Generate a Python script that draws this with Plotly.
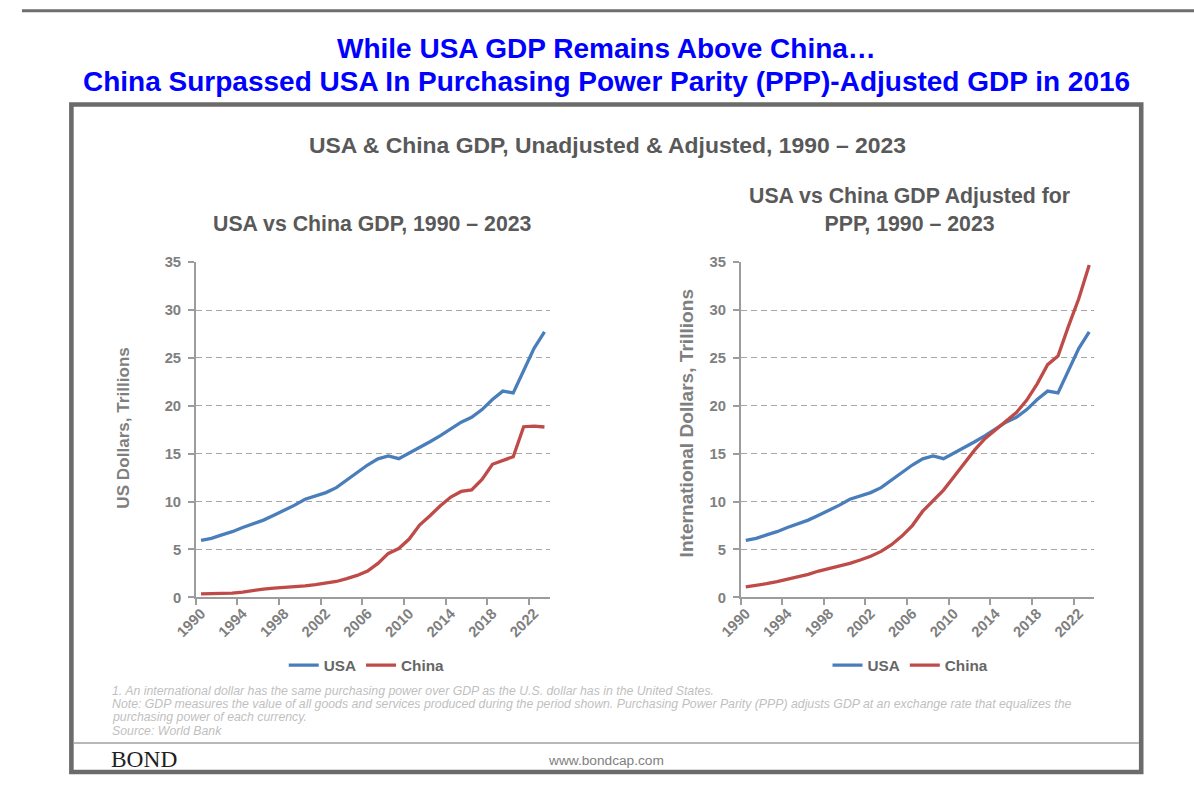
import plotly.graph_objects as go

# ---------------- data (trillions) ----------------
years = list(range(1990, 2024))

usa_gdp = [5.96, 6.16, 6.52, 6.86, 7.29, 7.64, 8.07, 8.58, 9.06, 9.63,
           10.25, 10.58, 10.94, 11.46, 12.22, 13.04, 13.82, 14.47, 14.77, 14.48,
           15.05, 15.60, 16.25, 16.88, 17.61, 18.30, 18.80, 19.61, 20.66, 21.54,
           21.35, 23.68, 26.01, 27.72]

china_gdp = [0.36, 0.38, 0.43, 0.44, 0.56, 0.73, 0.86, 0.96, 1.03, 1.09,
             1.21, 1.34, 1.47, 1.66, 1.96, 2.29, 2.75, 3.55, 4.59, 5.10,
             6.09, 7.55, 8.53, 9.57, 10.48, 11.06, 11.23, 12.31, 13.90, 14.28,
             14.69, 17.82, 17.88, 17.79]

usa_ppp = [5.96, 6.16, 6.52, 6.86, 7.29, 7.64, 8.07, 8.58, 9.06, 9.63,
           10.25, 10.58, 10.94, 11.46, 12.22, 13.04, 13.82, 14.47, 14.77, 14.48,
           15.05, 15.60, 16.25, 16.88, 17.61, 18.30, 18.80, 19.61, 20.66, 21.54,
           21.35, 23.68, 26.01, 27.72]

china_ppp = [1.10, 1.25, 1.43, 1.65, 1.90, 2.15, 2.40, 2.75, 3.00, 3.25,
             3.55, 3.90, 4.30, 4.80, 5.50, 6.40, 7.50, 9.00, 10.10, 11.20,
             12.60, 14.00, 15.40, 16.60, 17.50, 18.40, 19.30, 20.60, 22.30, 24.30,
             25.20, 28.30, 31.20, 34.70]

xtick_years = [1990, 1994, 1998, 2002, 2006, 2010, 2014, 2018, 2022]
ytick_vals = [0, 5, 10, 15, 20, 25, 30, 35]

main_title_1 = "While USA GDP Remains Above China…"
main_title_2 = "China Surpassed USA In Purchasing Power Parity (PPP)-Adjusted GDP in 2016"
chart_heading = "USA & China GDP, Unadjusted & Adjusted, 1990 – 2023"
left_title = "USA vs China GDP, 1990 – 2023"
right_title = "USA vs China GDP Adjusted for<br>PPP, 1990 – 2023"
left_ytitle = "US Dollars, Trillions"
right_ytitle = "International Dollars, Trillions"
footnotes = [
    "1. An international dollar has the same purchasing power over GDP as the U.S. dollar has in the United States.",
    "Note: GDP measures the value of all goods and services produced during the period shown. Purchasing Power Parity (PPP) adjusts GDP at an exchange rate that equalizes the",
    "purchasing power of each currency.",
    "Source: World Bank",
]

# ---------------- styling ----------------
W, H = 1194, 786
# positions below are given in photographed-picture pixels and mapped to page pixels
OX, OY, S = 21.1, 7.2, 0.982
FONT = "Liberation Sans, Arial, sans-serif"
BLUE = "#4A7EBB"
RED = "#BE4B48"
GRAY_TXT = "#595959"
TICK_TXT = "#7F7F7F"
AXIS_COL = "#9C9C9C"
GRID_COL = "#A6A6A6"


def px(x):
    return ((x - OX) / S) / W


def py(y):
    return 1 - ((y - OY) / S) / H


fig = go.Figure()

LW = 3.3
fig.add_trace(go.Scatter(x=years, y=usa_gdp, name="USA", mode="lines",
                         line=dict(color=BLUE, width=LW), xaxis="x", yaxis="y",
                         legend="legend"))
fig.add_trace(go.Scatter(x=years, y=china_gdp, name="China", mode="lines",
                         line=dict(color=RED, width=LW), xaxis="x", yaxis="y",
                         legend="legend"))
fig.add_trace(go.Scatter(x=years, y=usa_ppp, name="USA", mode="lines",
                         line=dict(color=BLUE, width=LW), xaxis="x2", yaxis="y2",
                         legend="legend2"))
fig.add_trace(go.Scatter(x=years, y=china_ppp, name="China", mode="lines",
                         line=dict(color=RED, width=LW), xaxis="x2", yaxis="y2",
                         legend="legend2"))

xaxis_common = dict(
    range=[min(years) - 0.5, max(years) + 0.5],
    tickmode="array", tickvals=xtick_years, ticktext=[str(v) for v in xtick_years],
    ticks="", tickangle=-45,
    tickfont=dict(family=FONT, size=14.8, color=TICK_TXT, weight="bold"),
    showgrid=False, zeroline=False,
    showline=True, linecolor=AXIS_COL, linewidth=1.5,
    minor=dict(tick0=min(years) - 0.5, dtick=4, ticks="outside", ticklen=6,
               tickcolor=AXIS_COL, tickwidth=1.5, showgrid=False),
    fixedrange=True,
)
yaxis_common = dict(
    range=[0, 35], tickmode="array", tickvals=ytick_vals,
    ticks="outside", ticklen=6, tickcolor=AXIS_COL, tickwidth=1.5,
    tickfont=dict(family=FONT, size=14.8, color=TICK_TXT, weight="bold"),
    showgrid=True, gridcolor=GRID_COL, gridwidth=1, griddash="6px,4px",
    zeroline=False, showline=True, linecolor=AXIS_COL, linewidth=1.5,
    ticklabelstandoff=4, fixedrange=True,
)

legend_font = dict(family=FONT, size=15.3, color="#666666", weight="bold")

fig.update_layout(
    width=W, height=H,
    margin=dict(l=0, r=0, t=0, b=0, pad=0),
    paper_bgcolor="white", plot_bgcolor="white",
    font=dict(family=FONT, color=GRAY_TXT),
    xaxis=dict(domain=[px(195), px(549)], anchor="y", **xaxis_common),
    yaxis=dict(domain=[py(598), py(262)], anchor="x", **yaxis_common),
    xaxis2=dict(domain=[px(740), px(1094)], anchor="y2", **xaxis_common),
    yaxis2=dict(domain=[py(598), py(262)], anchor="x2", **yaxis_common),
    legend=dict(orientation="h", x=px(366), xanchor="center", y=py(666), yanchor="middle",
                font=legend_font, itemwidth=30, bgcolor="rgba(0,0,0,0)", traceorder="normal"),
    legend2=dict(orientation="h", x=px(910), xanchor="center", y=py(666), yanchor="middle",
                 font=legend_font, itemwidth=30, bgcolor="rgba(0,0,0,0)", traceorder="normal"),
    showlegend=True,
)

shapes = [
    # outer page frame (top edge)
    dict(type="line", xref="paper", yref="paper", x0=0, x1=1, y0=py(10), y1=py(10),
         line=dict(color="#6E6E6E", width=3)),
    # inner chart box
    dict(type="rect", xref="paper", yref="paper", x0=px(70.5), x1=px(1140.8), y0=py(773), y1=py(104),
         line=dict(color="#6B6B6B", width=4.6)),
    # divider line above footer
    dict(type="line", xref="paper", yref="paper", x0=px(72.5), x1=px(1138.5), y0=py(744), y1=py(744),
         line=dict(color="#A0A0A0", width=1.5)),
]
fig.update_layout(shapes=shapes)

ann = []


def add_text(text, x, y, size, color, xanchor="center", weight="normal", style="normal",
             family=FONT, angle=0):
    ann.append(dict(text=text, x=px(x), y=py(y), xref="paper", yref="paper",
                    showarrow=False, xanchor=xanchor, yanchor="middle", textangle=angle,
                    font=dict(family=family, size=size, color=color, weight=weight, style=style)))


add_text(main_title_1, 606, 48, 28, "#0000FF", weight="bold")
add_text(main_title_2, 606, 81, 28, "#0000FF", weight="bold")
add_text(chart_heading, 607, 145, 22.9, GRAY_TXT, weight="bold")
add_text(left_title, 372, 224, 21.3, GRAY_TXT, weight="bold")
add_text(right_title, 909, 210, 21.3, GRAY_TXT, weight="bold")
add_text(left_ytitle, 123, 428, 17.1, TICK_TXT, weight="bold", angle=-90)
add_text(right_ytitle, 686, 424, 19.1, TICK_TXT, weight="bold", angle=-90)
for i, line in enumerate(footnotes):
    add_text(line, 109, 691.5 + 13.4 * i, 12.3, "#BFBFBF", xanchor="left", style="italic")
add_text("BOND", 108, 760, 23.4, "#1E1E1E", xanchor="left",
         family="Liberation Serif, Times New Roman, serif")
add_text("www.bondcap.com", 605, 762, 13.7, "#808080")
fig.update_layout(annotations=ann)

fig.write_html("out.html", config={"displayModeBar": False},
               post_script="document.body.style.margin='0';")
